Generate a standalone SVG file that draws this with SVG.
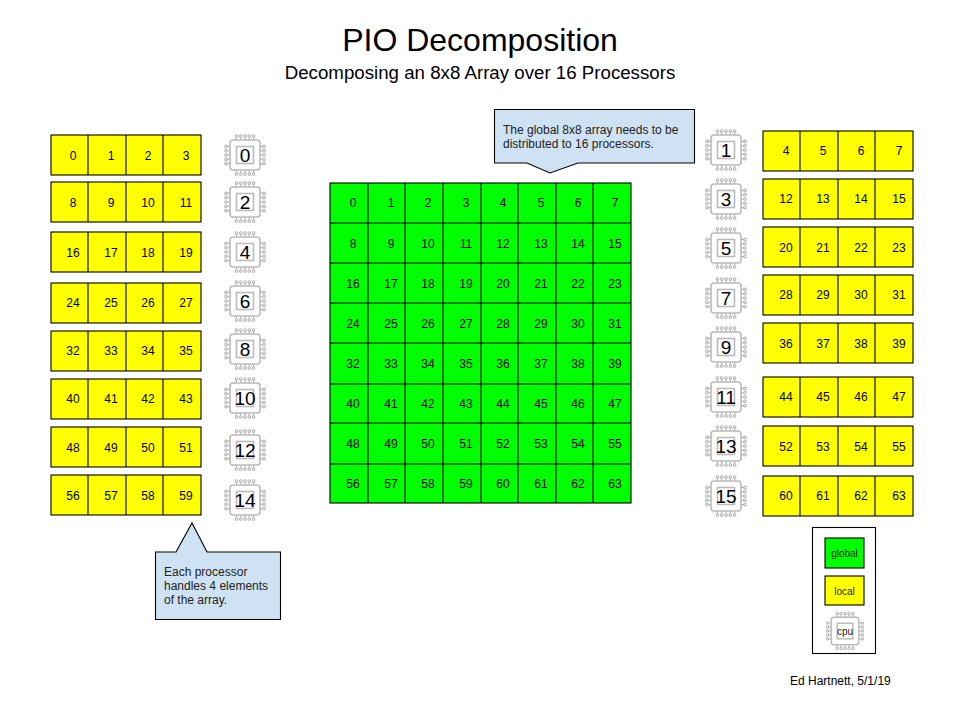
<svg xmlns="http://www.w3.org/2000/svg" width="960" height="720" viewBox="0 0 960 720">
<style>
text{font-family:"Liberation Sans",Arial,sans-serif;fill:#000}
.c{stroke:#000;stroke-width:1.1}
.g{fill:#00ff00}.y{fill:#ffff00}
.n{font-size:12px;text-anchor:middle;fill:#222}
.k{font-size:19px;text-anchor:middle}
.b{fill:#cfe2f3;stroke:#000;stroke-width:1.1}
.t{font-size:12px;fill:#222}
.l{font-size:10px;text-anchor:middle;fill:#222}
.chip{fill:#fff;stroke:#bbb;stroke-width:1.6}
.pin{fill:none;stroke:#b5b5b5;stroke-width:1.1}
</style>
<defs>
<g id="chip">
<path class="pin" d="M-8.600-15v-3M-4.300-15v-3M0-15v-3M4.300-15v-3M8.600-15v-3M-8.600 15v3M-4.300 15v3M0 15v3M4.300 15v3M8.600 15v3M-15-8.600h-3M-15-4.300h-3M-15 0h-3M-15 4.300h-3M-15 8.600h-3M15-8.600h3M15-4.300h3M15 0h3M15 4.300h3M15 8.600h3"/>
<g class="pin"><circle cx="-8.600" cy="-19" r="1.300"/><circle cx="-4.300" cy="-19" r="1.300"/><circle cx="0" cy="-19" r="1.300"/><circle cx="4.300" cy="-19" r="1.300"/><circle cx="8.600" cy="-19" r="1.300"/><circle cx="-8.600" cy="19" r="1.300"/><circle cx="-4.300" cy="19" r="1.300"/><circle cx="0" cy="19" r="1.300"/><circle cx="4.300" cy="19" r="1.300"/><circle cx="8.600" cy="19" r="1.300"/><circle cx="-19" cy="-8.600" r="1.300"/><circle cx="-19" cy="-4.300" r="1.300"/><circle cx="-19" cy="0" r="1.300"/><circle cx="-19" cy="4.300" r="1.300"/><circle cx="-19" cy="8.600" r="1.300"/><circle cx="19" cy="-8.600" r="1.300"/><circle cx="19" cy="-4.300" r="1.300"/><circle cx="19" cy="0" r="1.300"/><circle cx="19" cy="4.300" r="1.300"/><circle cx="19" cy="8.600" r="1.300"/></g>
<rect class="chip" x="-15" y="-15" width="30" height="30" rx="3"/>
<rect class="chip" x="-8.500" y="-8.500" width="17" height="17"/>
</g>
<g id="row"><rect class="y c" width="150" height="40"/><path class="c" d="M37 0v40M75 0v40M112 0v40" fill="none"/></g>
</defs>
<text x="480" y="50.500" font-size="32px" text-anchor="middle">PIO Decomposition</text>
<text x="480" y="79" font-size="18.700" text-anchor="middle">Decomposing an 8x8 Array over 16 Processors</text>
<g id="global">
<rect class="g c" x="330" y="183" width="301" height="320"/>
<path class="c" fill="none" d="M368 183v320M405 183v320M443 183v320M481 183v320M518 183v320M556 183v320M593 183v320M330 223h301M330 263h301M330 303h301M330 343h301M330 384h301M330 423h301M330 464h301"/>
<g class="n">
<text x="353" y="207">0</text><text x="391" y="207">1</text><text x="428" y="207">2</text><text x="466" y="207">3</text><text x="503" y="207">4</text><text x="541" y="207">5</text><text x="578" y="207">6</text><text x="615" y="207">7</text>
<text x="353" y="248">8</text><text x="391" y="248">9</text><text x="428" y="248">10</text><text x="466" y="248">11</text><text x="503" y="248">12</text><text x="541" y="248">13</text><text x="578" y="248">14</text><text x="615" y="248">15</text>
<text x="353" y="288">16</text><text x="391" y="288">17</text><text x="428" y="288">18</text><text x="466" y="288">19</text><text x="503" y="288">20</text><text x="541" y="288">21</text><text x="578" y="288">22</text><text x="615" y="288">23</text>
<text x="353" y="328">24</text><text x="391" y="328">25</text><text x="428" y="328">26</text><text x="466" y="328">27</text><text x="503" y="328">28</text><text x="541" y="328">29</text><text x="578" y="328">30</text><text x="615" y="328">31</text>
<text x="353" y="368">32</text><text x="391" y="368">33</text><text x="428" y="368">34</text><text x="466" y="368">35</text><text x="503" y="368">36</text><text x="541" y="368">37</text><text x="578" y="368">38</text><text x="615" y="368">39</text>
<text x="353" y="408">40</text><text x="391" y="408">41</text><text x="428" y="408">42</text><text x="466" y="408">43</text><text x="503" y="408">44</text><text x="541" y="408">45</text><text x="578" y="408">46</text><text x="615" y="408">47</text>
<text x="353" y="448">48</text><text x="391" y="448">49</text><text x="428" y="448">50</text><text x="466" y="448">51</text><text x="503" y="448">52</text><text x="541" y="448">53</text><text x="578" y="448">54</text><text x="615" y="448">55</text>
<text x="353" y="488">56</text><text x="391" y="488">57</text><text x="428" y="488">58</text><text x="466" y="488">59</text><text x="503" y="488">60</text><text x="541" y="488">61</text><text x="578" y="488">62</text><text x="615" y="488">63</text>
</g>
</g>
<g id="local-left">
<use href="#row" x="51" y="135"/><use href="#row" x="51" y="182"/><use href="#row" x="51" y="232"/><use href="#row" x="51" y="283"/><use href="#row" x="51" y="331"/><use href="#row" x="51" y="379"/><use href="#row" x="51" y="427"/><use href="#row" x="51" y="475"/>
<g class="n">
<text x="73" y="160">0</text><text x="111" y="160">1</text><text x="148" y="160">2</text><text x="186" y="160">3</text>
<text x="73" y="207">8</text><text x="111" y="207">9</text><text x="148" y="207">10</text><text x="186" y="207">11</text>
<text x="73" y="257">16</text><text x="111" y="257">17</text><text x="148" y="257">18</text><text x="186" y="257">19</text>
<text x="73" y="307">24</text><text x="111" y="307">25</text><text x="148" y="307">26</text><text x="186" y="307">27</text>
<text x="73" y="355">32</text><text x="111" y="355">33</text><text x="148" y="355">34</text><text x="186" y="355">35</text>
<text x="73" y="403">40</text><text x="111" y="403">41</text><text x="148" y="403">42</text><text x="186" y="403">43</text>
<text x="73" y="452">48</text><text x="111" y="452">49</text><text x="148" y="452">50</text><text x="186" y="452">51</text>
<text x="73" y="500">56</text><text x="111" y="500">57</text><text x="148" y="500">58</text><text x="186" y="500">59</text>
</g>
</g>
<g id="local-right">
<use href="#row" x="763" y="131"/><use href="#row" x="763" y="179"/><use href="#row" x="763" y="227"/><use href="#row" x="763" y="275"/><use href="#row" x="763" y="323"/><use href="#row" x="763" y="377"/><use href="#row" x="763" y="426"/><use href="#row" x="763" y="476"/>
<g class="n">
<text x="786" y="155">4</text><text x="823" y="155">5</text><text x="861" y="155">6</text><text x="899" y="155">7</text>
<text x="786" y="203">12</text><text x="823" y="203">13</text><text x="861" y="203">14</text><text x="899" y="203">15</text>
<text x="786" y="252">20</text><text x="823" y="252">21</text><text x="861" y="252">22</text><text x="899" y="252">23</text>
<text x="786" y="299">28</text><text x="823" y="299">29</text><text x="861" y="299">30</text><text x="899" y="299">31</text>
<text x="786" y="348">36</text><text x="823" y="348">37</text><text x="861" y="348">38</text><text x="899" y="348">39</text>
<text x="786" y="401">44</text><text x="823" y="401">45</text><text x="861" y="401">46</text><text x="899" y="401">47</text>
<text x="786" y="451">52</text><text x="823" y="451">53</text><text x="861" y="451">54</text><text x="899" y="451">55</text>
<text x="786" y="500">60</text><text x="823" y="500">61</text><text x="861" y="500">62</text><text x="899" y="500">63</text>
</g>
</g>
<g id="cpu-0"><use href="#chip" x="245" y="155"/><text class="k" x="245" y="162">0</text></g>
<g id="cpu-2"><use href="#chip" x="245" y="202"/><text class="k" x="245" y="209">2</text></g>
<g id="cpu-4"><use href="#chip" x="245" y="252"/><text class="k" x="245" y="259">4</text></g>
<g id="cpu-6"><use href="#chip" x="245" y="301"/><text class="k" x="245" y="308">6</text></g>
<g id="cpu-8"><use href="#chip" x="245" y="349"/><text class="k" x="245" y="356">8</text></g>
<g id="cpu-10"><use href="#chip" x="245" y="398"/><text class="k" x="245" y="405">10</text></g>
<g id="cpu-12"><use href="#chip" x="245" y="450"/><text class="k" x="245" y="457">12</text></g>
<g id="cpu-14"><use href="#chip" x="245" y="500"/><text class="k" x="245" y="507">14</text></g>
<g id="cpu-1"><use href="#chip" x="726" y="150"/><text class="k" x="726" y="157">1</text></g>
<g id="cpu-3"><use href="#chip" x="726" y="199"/><text class="k" x="726" y="206">3</text></g>
<g id="cpu-5"><use href="#chip" x="726" y="248"/><text class="k" x="726" y="255">5</text></g>
<g id="cpu-7"><use href="#chip" x="726" y="298"/><text class="k" x="726" y="305">7</text></g>
<g id="cpu-9"><use href="#chip" x="726" y="347"/><text class="k" x="726" y="354">9</text></g>
<g id="cpu-11"><use href="#chip" x="726" y="397"/><text class="k" x="726" y="404">11</text></g>
<g id="cpu-13"><use href="#chip" x="726" y="446"/><text class="k" x="726" y="453">13</text></g>
<g id="cpu-15"><use href="#chip" x="726" y="496"/><text class="k" x="726" y="503">15</text></g>
<g id="callout-global">
<path class="b" d="M494.500 109.500H694.500V163H578L550 173L527 163H494.500Z"/>
<text class="t" x="503" y="134">The global 8x8 array needs to be</text>
<text class="t" x="503" y="148">distributed to 16 processors.</text>
</g>
<g id="callout-local">
<path class="b" d="M155.500 552H176L192 523L207 552H280.500V619.500H155.500Z"/>
<text class="t" x="164" y="576">Each processor</text>
<text class="t" x="164" y="590">handles 4 elements</text>
<text class="t" x="164" y="604">of the array.</text>
</g>
<g id="legend">
<rect x="812.500" y="527.500" width="63" height="126" fill="#fff" stroke="#000" stroke-width="1.100"/>
<rect class="g c" x="825" y="538" width="39" height="30"/>
<text class="l" x="844.500" y="557">global</text>
<rect class="y c" x="825" y="576" width="39" height="29"/>
<text class="l" x="844.500" y="595">local</text>
<use href="#chip" transform="translate(845 631) scale(.92)"/>
<text class="l" x="845" y="635">cpu</text>
</g>
<text id="credit" x="790" y="685" font-size="12" fill="#222">Ed Hartnett, 5/1/19</text>
</svg>
